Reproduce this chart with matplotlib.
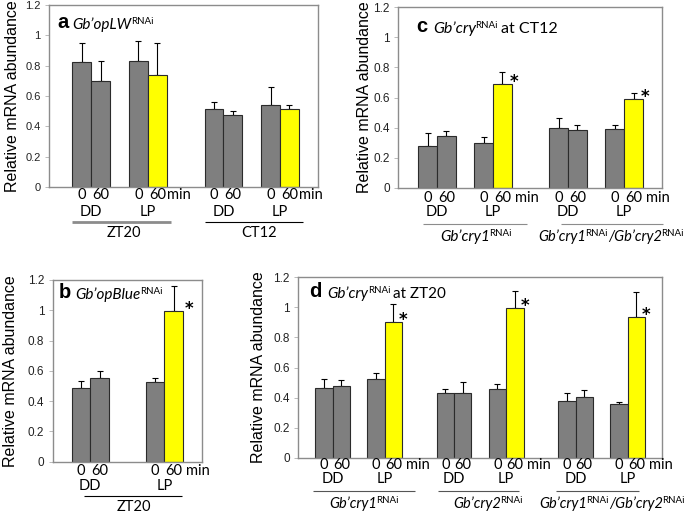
import numpy as np
import matplotlib.pyplot as plt

plt.rcParams['font.family'] = ['Liberation Sans', 'DejaVu Sans']

# ---- data ----
# a: Gb'opLW RNAi  -> ZT20 (DD 0, DD 60, LP 0, LP 60), CT12 (same)
a_means = [0.823, 0.696, 0.832, 0.736, 0.515, 0.473, 0.543, 0.517]
a_errs = [0.127, 0.136, 0.131, 0.210, 0.043, 0.026, 0.114, 0.026]
a_groups = ['ZT20', 'CT12']

# b: Gb'opBlue RNAi -> ZT20
b_means = [0.489, 0.550, 0.524, 0.995]
b_errs = [0.044, 0.047, 0.029, 0.165]
b_groups = ['ZT20']

# c: Gb'cry RNAi at CT12 -> cry1, cry1/cry2
c_means = [0.280, 0.342, 0.299, 0.692, 0.397, 0.384, 0.388, 0.592]
c_errs = [0.082, 0.033, 0.038, 0.080, 0.064, 0.033, 0.029, 0.040]

# d: Gb'cry RNAi at ZT20 -> cry1, cry2, cry1/cry2
d_means = [0.462, 0.479, 0.526, 0.900, 0.428, 0.428, 0.457, 0.994,
           0.375, 0.402, 0.355, 0.938]
d_errs = [0.062, 0.038, 0.035, 0.125, 0.027, 0.073, 0.031, 0.115,
          0.053, 0.048, 0.015, 0.162]

minutes = ['0', '60']
conditions = ['DD', 'LP']
yticks = [0, 0.2, 0.4, 0.6, 0.8, 1.0, 1.2]
ytick_labels = ['0', '0.2', '0.4', '0.6', '0.8', '1', '1.2']

GRAY = '#7f7f7f'
YELLOW = '#ffff00'
W, H = 685, 514
XFS = 10.5   # size of the category texts under the axes

fig = plt.figure(figsize=(6.85, 5.14), dpi=100)


def px_axes(l, t, r, b):
    return fig.add_axes([l / W, 1 - b / H, (r - l) / W, (b - t) / H])


IT = dict(fontfamily='Lato', fontstyle='italic')
RM = dict(fontfamily='Lato')
centered = []


def rich(ax, parts, xy, xycoords, offset, va='center', base=0, center=False):
    # parts: (text, kwargs, superscript?, gap_px)
    arts = []
    for i, (txt, kw, sup, gap) in enumerate(parts):
        if i == 0:
            a = ax.annotate(txt, xy=xy, xycoords=xycoords, xytext=offset,
                            textcoords='offset pixels', ha='left', va=va,
                            annotation_clip=False, **kw)
        else:
            ref = arts[min(base, i - 1)]
            a = ax.annotate(txt, xy=(1, 0.42 if sup else 0),
                            xycoords=(arts[-1], ref), xytext=(gap, 0),
                            textcoords='offset pixels', ha='left',
                            va='bottom', annotation_clip=False, **kw)
        arts.append(a)
    if center:
        centered.append((arts, offset))
    return arts


def panel(ax, pos, means, errs, stars, xlim, lab_dx, tick_fs, star_dx):
    means = np.asarray(means)
    errs = np.asarray(errs)
    colors = [YELLOW if i % 4 == 3 else GRAY for i in range(len(means))]
    ax.bar(pos, means, width=1.0, color=colors, edgecolor='#2b2b2b',
           linewidth=0.8, zorder=2)
    ax.errorbar(pos, means, yerr=[np.zeros_like(errs), errs], fmt='none',
                ecolor='black', elinewidth=0.8, capsize=2.2, capthick=0.8,
                zorder=1)
    for i in stars:
        ax.annotate('*', xy=(pos[i] + 0.5, means[i]), xytext=(star_dx, -3),
                    textcoords='offset pixels', ha='center', va='baseline',
                    fontsize=12, fontweight='bold', fontfamily='DejaVu Sans')
    ax.set_xlim(*xlim)
    ax.set_ylim(0, 1.2)
    ax.set_xticks([])
    ax.set_yticks(yticks)
    ax.set_yticklabels(ytick_labels, fontsize=tick_fs, color='#222222')
    ax.tick_params(axis='y', length=3, width=0.6, color='#b0b0b0', pad=3)
    for s in ax.spines.values():
        s.set_color('#8c8c8c')
        s.set_linewidth(1.0)
    ax.set_ylabel('Relative mRNA abundance', fontsize=11.5)
    w_px = ax.get_position().width * W
    ax.yaxis.set_label_coords(-lab_dx / w_px, 0.5)


def xrows(ax, pos, minute_dy, cond_dy, min_gap):
    xa = ('data', 'axes fraction')
    for i, p in enumerate(pos):
        ax.annotate(minutes[i % 2], xy=(p, 0), xycoords=xa,
                    xytext=(0, -minute_dy), textcoords='offset pixels',
                    ha='center', va='center', fontsize=XFS, **RM)
    for j in range(len(pos) // 2):
        ctr = (pos[2 * j] + pos[2 * j + 1]) / 2
        ax.annotate(conditions[j % 2], xy=(ctr, 0), xycoords=xa,
                    xytext=(0, -cond_dy), textcoords='offset pixels',
                    ha='center', va='center', fontsize=XFS, **RM)
        if j % 2 == 1:
            ax.annotate('min', xy=(pos[2 * j + 1], 0), xycoords=xa,
                        xytext=(min_gap, -minute_dy),
                        textcoords='offset pixels', ha='left', va='center',
                        fontsize=XFS, **RM)


def group_lines(ax, spans, line_dy, colors, lws):
    h_px = ax.get_position().height * H
    y = -line_dy / h_px
    tr = ax.get_xaxis_transform()
    for (x0, x1), c, lw in zip(spans, colors, lws):
        ax.plot([x0, x1], [y, y], transform=tr, color=c, lw=lw,
                clip_on=False, solid_capstyle='butt')


xa = ('data', 'axes fraction')
SUP = dict(fontsize=7, **RM)

# ---------------- panel a ----------------
axA = px_axes(49, 4.7, 318, 187.3)
posA = [1.5, 2.5, 4.5, 5.5, 8.5, 9.5, 11.5, 12.5]
panel(axA, posA, a_means, a_errs, [], (-0.24, 14.01), 28.5, 8, 2)
xrows(axA, posA, 8, 25, 9.5)
group_lines(axA, [(1.0, 6.2), (8.0, 13.2)], 34.5, ['#8c8c8c', 'black'],
            [2.0, 0.8])
for g, cx in zip(a_groups, [3.72, 10.89]):
    axA.annotate(g, xy=(cx, 0), xycoords=xa,
                 xytext=(0, -45.5), textcoords='offset pixels', ha='center',
                 va='center', fontsize=XFS, **RM)
rich(axA, [('a', dict(fontsize=14.5, fontweight='bold'), False, 0),
           ('Gb’opLW', dict(fontsize=11, **IT), False, 4),
           ('RNAi', SUP, True, -0.5)],
     (0, 1), 'axes fraction', (8, -23.5), va='baseline', base=1)

# ---------------- panel c ----------------
axC = px_axes(398, 7.3, 662, 187.7)
posC = [1.5, 2.5, 4.5, 5.5, 8.5, 9.5, 11.5, 12.5]
panel(axC, posC, c_means, c_errs, [3, 7], (-0.08, 14.02), 26, 8.5, 2)
xrows(axC, posC, 10, 24, 12.5)
group_lines(axC, [(1.28, 6.82), (8.6, 14.1)], 36.5,
            ['#8c8c8c', '#8c8c8c'], [0.8, 0.8])
rich(axC, [('Gb’cry1', dict(fontsize=11, **IT), False, 0),
           ('RNAi', SUP, True, -1)],
     (4.06, 0), xa, (0, -49), center=True)
GC = dict(fontsize=10.5, **IT)
rich(axC, [('Gb’cry1', GC, False, 0), ('RNAi', SUP, True, -1),
           ('/Gb’cry2', GC, False, 0), ('RNAi', SUP, True, -1)],
     (11.3, 0), xa, (0, -49), center=True)
rich(axC, [('c', dict(fontsize=14.5, fontweight='bold'), False, 0),
           ('Gb’cry', dict(fontsize=11.5, **IT), False, 6),
           ('RNAi', SUP, True, -0.5),
           ('at CT12', dict(fontsize=11.5, **RM), False, 3)],
     (0, 1), 'axes fraction', (18, -24.5), va='baseline', base=1)

# ---------------- panel b ----------------
axB = px_axes(52.7, 280, 201.7, 461.7)
posB = [1.5, 2.5, 5.5, 6.5]
panel(axB, posB, b_means, b_errs, [3], (-0.03, 8.02), 34.5, 8.5, 6)
xrows(axB, posB, 9, 24, 12.5)
group_lines(axB, [(1.68, 6.94)], 34, ['black'], [0.8])
axB.annotate(b_groups[0], xy=(4.36, 0), xycoords=xa, xytext=(0, -45),
             textcoords='offset pixels', ha='center', va='center',
             fontsize=XFS, **RM)
rich(axB, [('b', dict(fontsize=14.5, fontweight='bold'), False, 0),
           ('Gb’opBlue', dict(fontsize=11, **IT), False, 4),
           ('RNAi', SUP, True, -0.5)],
     (0, 1), 'axes fraction', (6.5, -18.5), va='baseline', base=1)

# ---------------- panel d ----------------
axD = px_axes(298, 277.3, 662.3, 457.7)
posD = [1.5, 2.5, 4.5, 5.5, 8.5, 9.5, 11.5, 12.5, 15.5, 16.5, 18.5, 19.5]
panel(axD, posD, d_means, d_errs, [3, 7, 11], (0, 21), 32, 8.5, 1)
xrows(axD, posD, 7, 21.5, 12.5)
group_lines(axD, [(0.88, 6.72), (8.06, 12.76), (14.87, 19.66)], 33.6,
            ['#555555'] * 3, [0.8] * 3)
GD = dict(fontsize=10.5, **IT)
rich(axD, [('Gb’cry1', GD, False, 0), ('RNAi', SUP, True, -1)],
     (3.80, 0), xa, (0, -46), center=True)
rich(axD, [('Gb’cry2', GD, False, 0), ('RNAi', SUP, True, -1)],
     (10.94, 0), xa, (0, -46), center=True)
rich(axD, [('Gb’cry1', GD, False, 0), ('RNAi', SUP, True, -1),
           ('/Gb’cry2', GD, False, 0), ('RNAi', SUP, True, -1)],
     (18.1, 0), xa, (0, -46), center=True)
rich(axD, [('d', dict(fontsize=14.5, fontweight='bold'), False, 0),
           ('Gb’cry', dict(fontsize=11, **IT), False, 6),
           ('RNAi', SUP, True, -0.5),
           ('at ZT20', dict(fontsize=11, **RM), False, 3)],
     (0, 1), 'axes fraction', (11, -19.5), va='baseline', base=1)

# centre the multi-part group labels
fig.canvas.draw()
rend = fig.canvas.get_renderer()
for arts, (ox, oy) in centered:
    x0 = min(a.get_window_extent(rend).x0 for a in arts)
    x1 = max(a.get_window_extent(rend).x1 for a in arts)
    arts[0].xyann = (ox - (x1 - x0) / 2, oy)

fig.savefig('out.png', dpi=100)
